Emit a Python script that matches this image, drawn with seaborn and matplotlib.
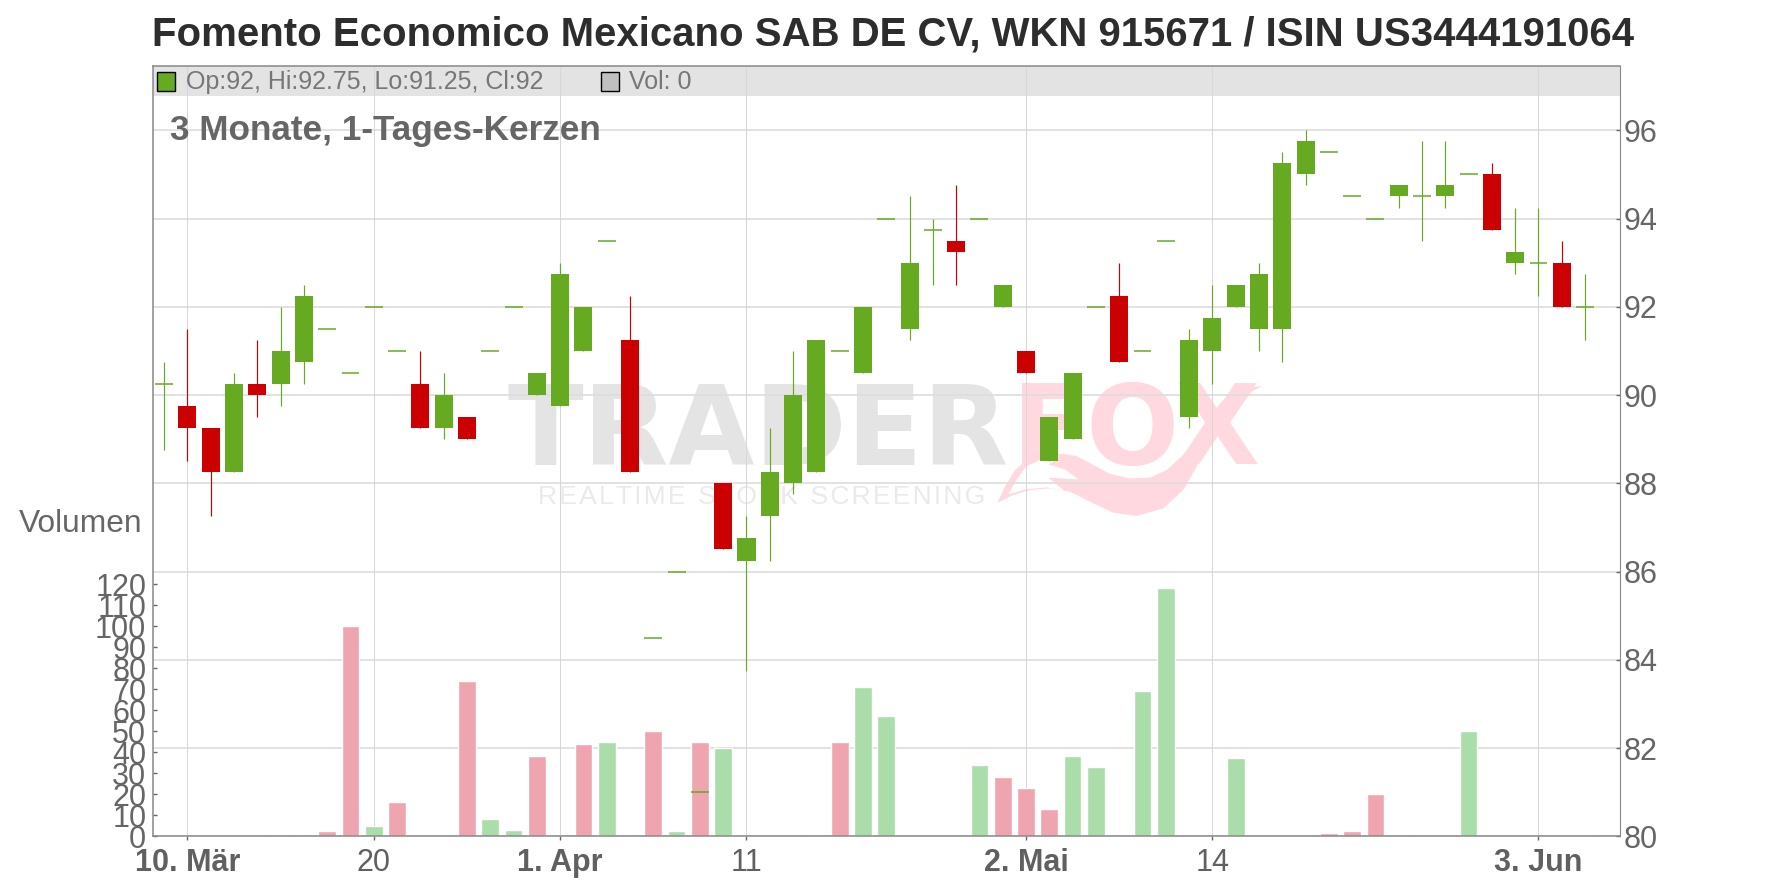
import matplotlib
matplotlib.use("Agg")
import matplotlib.pyplot as plt
from matplotlib.patches import Rectangle, Polygon
from matplotlib.transforms import ScaledTranslation
import numpy as np
import pandas as pd
import seaborn as sns

sns.set_theme(style="white")
plt.rcParams['font.family'] = ['Liberation Sans', 'DejaVu Sans']

opens = [90.25,89.75,89.25,88.25,90.25,90.25,90.75,91.5,90.5,92,91,90.25,89.25,89.5,91,92,90,89.75,91,93.5,91.25,84.5,86,81,88,86.25,87.25,88,88.25,91,90.5,
         94,91.5,93.75,93.5,94,92,91,88.5,89,92,92.25,91,93.5,89.5,91,92,91.5,91.5,95,95.5,94.5,94,94.5,94.5,94.5,95,95,93,93,93,92]
highs = [90.75,91.5,89.25,90.5,91.25,92,92.5,91.5,90.5,92,91,91,90.5,89.5,91,92,90.5,93,92,93.5,92.25,84.5,86,81,88,87.25,89.25,91,91.25,91,92,
         94,94.5,94,94.75,94,92.5,91,89.5,90.5,92,93,91,93.5,91.5,92.5,92.5,93,95.5,96,95.5,94.5,94,94.75,95.75,95.75,95,95.25,94.25,94.25,93.5,92.75]
lows = [88.75,88.5,87.25,88.25,89.5,89.75,90.25,91.5,90.5,92,91,89.25,89,89,91,92,90,89.75,91,93.5,88.25,84.5,86,81,86.5,83.75,86.25,87.75,88.25,91,90.5,
        94,91.25,92.5,92.5,94,92,90.5,88.5,89,92,90.75,91,93.5,89.25,90.25,92,91,90.75,94.75,95.5,94.5,94,94.25,93.5,94.25,95,93.75,92.75,92.25,92,91.25]
closes = [90.25,89.25,88.25,90.25,90,91,92.25,91.5,90.5,92,91,89.25,90,89,91,92,90.5,92.75,92,93.5,88.25,84.5,86,81,86.5,86.75,88.25,90,91.25,91,92,
          94,93,93.75,93.25,94,92.5,90.5,89.5,90.5,92,90.75,91,93.5,91.25,91.75,92.5,92.75,95.25,95.75,95.5,94.5,94,94.75,94.5,94.75,95,93.75,93.25,93,92,92]
volumes = [0,0,0,0,0,0,0,2.5,100.2,5,16.3,0,0,74,8.3,3,38.2,0,44,45,0,50,2.5,45,42,0,0,0,0,45,71,
           57.3,0,0,0,34,28.3,23,13,38.2,33,0,69.2,118.2,0,0,37.3,0,0,0,1.6,2.5,20.2,0,0,0,50,0,0,0,0,0]
vol_side = ['u','u','u','u','u','u','u','d','d','u','d','u','u','d','u','u','d','u','d','u','u','d','u','d','u','u','u','u','u','d','u',
            'u','u','u','u','u','d','d','d','u','u','u','u','u','u','u','u','u','u','u','d','d','d','u','u','u','u','u','u','u','u','u']
days = list(range(len(opens)))
price_ticks = [80, 82, 84, 86, 88, 90, 92, 94, 96]
vol_ticks = list(range(0, 130, 10))
date_pos = [1, 9, 17, 25, 37, 45, 59]
date_labels = ["10. Mär", "20", "1. Apr", "11", "2. Mai", "14", "3. Jun"]
date_bold = [True, False, True, False, True, False, True]

W, H = 1776, 888
GREEN, RED = "#66AA22", "#CC0000"
L, R, T, B = 152.5, 1620, 65.7, 836.3
pos = [L / W, 1 - B / H, (R - L) / W, (B - T) / H]
ylim_price = (80, 80 + (B - T) / 44.125)
xlim = (-0.5, 62.5)

def fx(x): return x / W
def fy(y): return 1 - y / H

fig = plt.figure(figsize=(W / 100, H / 100), dpi=100, facecolor="white")

# watermark (below the grid)
PINK, GREY = "#FFD9DF", "#E4E4E4"
fig.text(fx(507), fy(465), "TRADER", family="DejaVu Sans", weight="bold", fontsize=80,
         color=GREY, ha="left", va="baseline", zorder=0.1)
fig.text(fx(1012), fy(464), "FOX", family="DejaVu Sans", weight="bold", fontsize=79,
         color=PINK, ha="left", va="baseline", zorder=0.1)
fig.text(fx(538), fy(504), "R\u200aE\u200aA\u200aL\u200aT\u200aI\u200aM\u200aE\u2009\u2009\u200aS\u200aT\u200aO\u200aC\u200aK\u2009\u2009\u200aS\u200aC\u200aR\u200aE\u200aE\u200aN\u200aI\u200aN\u200aG",
         fontsize=19, color="#EAEAEA", ha="left", va="baseline", zorder=0.1)
def logo_pts(pts):
    return [(fx(990 + a / 3), fy(380 + b / 3)) for a, b in pts]
flame = [(22,368),(45,320),(75,270),(110,240),(160,226),(220,222),(260,228),(310,255),(360,282),(420,295),(480,293),
         (530,270),(580,225),(620,170),(650,120),(700,60),(750,28),(815,18),(760,50),(700,130),(660,130),(650,180),
         (620,260),(580,330),(520,385),(440,408),(370,398),(300,365),(240,335),(180,325),(120,330),(70,345)]
notch = [(55,343),(80,298),(110,258),(150,240),(205,235),(175,253),(225,268),(265,298),(175,293),(222,332),(170,322),(105,328)]
fig.add_artist(Polygon(logo_pts(flame), closed=True, transform=fig.transFigure, fc=PINK, ec="none", zorder=0.2))
fig.add_artist(Polygon(logo_pts(notch), closed=True, transform=fig.transFigure, fc="white", ec="none", zorder=0.3))

# background: grid, band
bg = fig.add_axes(pos, zorder=0.6)
bg.patch.set_visible(False)
bg.set_xlim(xlim); bg.set_ylim(ylim_price)
bg.set_xticks([]); bg.set_yticks([])
for s in bg.spines.values():
    s.set_visible(False)
bg.add_patch(Rectangle((0, 1 - 30.3 / (B - T)), 1, 30.3 / (B - T), transform=bg.transAxes,
                       fc="#E3E3E3", ec="none", zorder=0))
bg.hlines(price_ticks, *xlim, color="#DDDDDD", lw=1.2, zorder=1)
bg.vlines(date_pos, *ylim_price, color="#D8D8D8", lw=0.75, zorder=1)

# volume
vol = fig.add_axes(pos, zorder=1)
vol.patch.set_visible(False)
df = pd.DataFrame({"day": days, "volume": volumes, "side": vol_side})
sns.barplot(data=df, x="day", y="volume", hue="side", palette={"u": "#ABDDAB", "d": "#EFA5B0"},
            native_scale=True, dodge=False, width=0.76, legend=False, saturation=1, ax=vol)
vol.set_xlim(xlim); vol.set_ylim(0, (B - T) / 2.1)
vol.set_xlabel(""); vol.set_ylabel("")
vol.set_xticks([])
vol.set_yticks(vol_ticks)
vol.tick_params(axis="y", direction="in", length=3.2, width=1, color="#666666", left=True,
                labelsize=22, labelcolor="#666666", pad=4.5)
for s in vol.spines.values():
    s.set_visible(False)

# price candles
ax = fig.add_axes(pos, zorder=2)
ax.patch.set_visible(False)
o, h, l, c = map(np.array, (opens, highs, lows, closes))
d = np.array(days)
colors = np.where(c >= o, GREEN, RED)
ax.vlines(d, l, h, colors=colors, lw=0.85, zorder=2)
body = c != o
ax.bar(d[body], np.abs(c - o)[body], bottom=np.minimum(o, c)[body], width=0.775,
       color=colors[body], linewidth=0, zorder=3)
ax.hlines(o[~body], d[~body] - 0.385, d[~body] + 0.385, colors=colors[~body], lw=1.1, zorder=3)
ax.set_xlim(xlim); ax.set_ylim(ylim_price)
ax.yaxis.tick_right()
ax.set_yticks(price_ticks)
ax.tick_params(axis="y", direction="in", length=3.2, width=1, color="#666666", right=True,
               labelsize=22, labelcolor="#666666", pad=5)
shift = ScaledTranslation(-3.5 / 100, -3.5 / 100, fig.dpi_scale_trans)
for t in ax.get_yticklabels():
    t.set_verticalalignment("center")
    t.set_transform(t.get_transform() + shift)
ax.set_xticks(date_pos)
ax.set_xticklabels(date_labels)
ax.tick_params(axis="x", direction="out", length=2.6, width=1, color="#666666", bottom=True,
               labelsize=22, labelcolor="#606060", pad=6)
for t, b in zip(ax.get_xticklabels(), date_bold):
    t.set_fontweight("bold" if b else "normal")
for s in ax.spines.values():
    s.set_visible(True)
    s.set_color("#888888")
    s.set_linewidth(1.1)
ax.spines["right"].set_linewidth(0.8)

# texts
fig.text(fx(151.5), fy(46), "Fomento Economico Mexicano SAB DE CV, WKN 915671 / ISIN US3444191064",
         fontsize=28.9, weight="bold", color="#2D2D2D", ha="left", va="baseline")
fig.text(fx(169.5), fy(140), "3 Monate, 1-Tages-Kerzen", fontsize=25.3, weight="bold",
         color="#666666", ha="left", va="baseline", zorder=5)
fig.text(fx(18.5), fy(532), "Volumen", fontsize=22.9, color="#666666", ha="left", va="baseline")
fig.text(fx(186), fy(89), "Op:92, Hi:92.75, Lo:91.25, Cl:92", fontsize=18, color="#777777",
         ha="left", va="baseline", zorder=5)
fig.text(fx(629), fy(89), "Vol: 0", fontsize=18, color="#777777", ha="left", va="baseline", zorder=5)
for x0, col in ((157, GREEN), (601, "#C0C0C0")):
    fig.add_artist(Rectangle((fx(x0), fy(91)), 18 / W, 18.5 / H, transform=fig.transFigure,
                             fc=col, ec="black", lw=1, zorder=5))

fig.savefig("out.png", dpi=100, facecolor="white")
